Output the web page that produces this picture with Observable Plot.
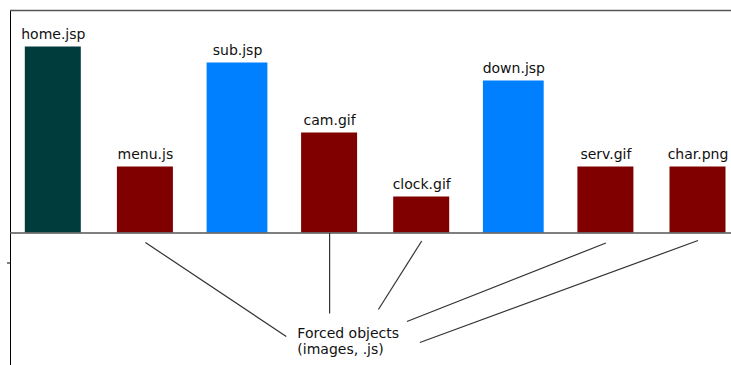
<!DOCTYPE html>
<html>
<head>
<meta charset="utf-8">
<script src="https://cdn.jsdelivr.net/npm/d3@7"></script>
<script src="https://cdn.jsdelivr.net/npm/@observablehq/plot@0.6"></script>
<style>
  html, body { margin: 0; padding: 0; background: #fff; }
  #chart svg { display: block; }
</style>
</head>
<body>
<div id="chart"></div>
<script>
// ---- data ----
const names  = ["home.jsp", "menu.js", "sub.jsp", "cam.gif", "clock.gif", "down.jsp", "serv.gif", "char.png"];
const kinds  = ["page", "object", "jsp", "object", "object", "jsp", "object", "object"];
const values = [186, 66, 170, 100, 36, 152, 66, 66];

// annotation: "Forced objects" callout lines (from bar to note)
const noteText    = "Forced objects\n(images, .js)";
const noteTargets = ["menu.js", "cam.gif", "clock.gif", "serv.gif", "char.png"];
const noteStartY  = [-9.5, 0, -8, -10, -7.5];
const noteEndX    = [2.53, 3, 3.53, 3.84, 3.98];
const noteEndY    = [-103.5, -80.5, -76.5, -88.5, -109.5];
const noteAtX = 2.65, noteAtY = -93.5;

const colors = {page: "#003c3c", jsp: "#0080ff", object: "#800000"};
const halfWidth = {page: 0.304, jsp: 0.33, object: 0.304};

const data = names.map((n, i) => ({name: n, i, kind: kinds[i], value: values[i]}));
const links = noteTargets.map((t, k) => ({
  x1: names.indexOf(t), y1: noteStartY[k], x2: noteEndX[k], y2: noteEndY[k]
}));

const chart = Plot.plot({
  width: 731,
  height: 365,
  marginLeft: 10,
  marginRight: 0,
  marginTop: 10,
  marginBottom: 0,
  style: {fontFamily: "'DejaVu Sans', sans-serif", fontSize: "14px", background: "#fff"},
  x: {type: "linear", domain: [0, 7], range: [52.8, 697.5], axis: null},
  y: {domain: [-132.5, 222.5], ticks: [-30], tickSize: 3, tickFormat: () => "", line: true, label: null},
  marks: [
    Plot.ruleY([222.5], {stroke: "#555", strokeWidth: 1.5}),
    Plot.rectY(data, {
      x1: d => d.i - halfWidth[d.kind],
      x2: d => d.i + halfWidth[d.kind],
      y1: 0,
      y2: "value",
      fill: d => colors[d.kind]
    }),
    Plot.text(data, {
      x: "i", y: "value", text: "name",
      lineAnchor: "bottom", dy: -8, fill: "#111", fontSize: 14
    }),
    Plot.ruleY([0], {stroke: "#555", strokeWidth: 1.5}),
    Plot.link(links, {x1: "x1", y1: "y1", x2: "x2", y2: "y2", stroke: "#333", strokeWidth: 1.2}),
    Plot.text([noteText], {
      x: noteAtX, y: noteAtY, text: d => d,
      textAnchor: "start", lineAnchor: "top", lineHeight: 1.15, fill: "#111", fontSize: 14
    })
  ]
});
document.getElementById("chart").appendChild(chart);
</script>
</body>
</html>
